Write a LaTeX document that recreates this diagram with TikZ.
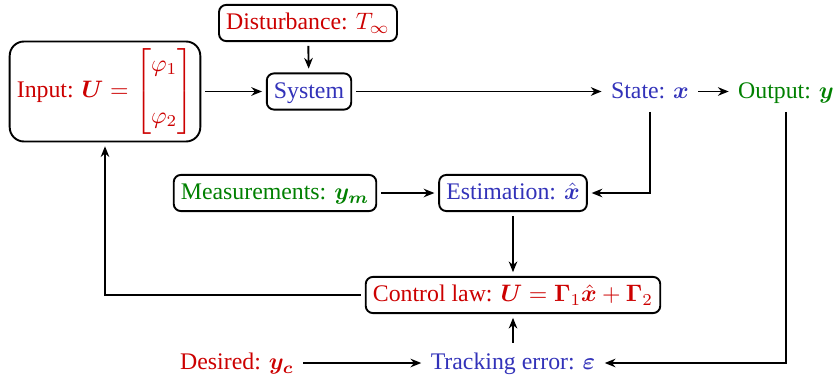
\documentclass[tikz,border=0pt]{standalone}
\usepackage{amsmath,bm}
\usepackage{fontspec}
\setmainfont{Liberation Serif}
\usetikzlibrary{arrows.meta}
\definecolor{cred}{RGB}{204,0,0}
\definecolor{cblue}{RGB}{50,50,185}
\definecolor{cgreen}{RGB}{0,128,0}
\begin{document}
\begin{tikzpicture}[x=0.42pt,y=-0.42pt,
  box/.style={draw,line width=0.8pt,rounded corners=3pt,inner sep=3pt,outer sep=2pt,text height=1.6ex,text depth=.4ex},
  lbl/.style={inner sep=2pt,outer sep=2pt,text height=1.6ex,text depth=.4ex},
  arr/.style={-{Stealth[length=4.5pt,width=3.6pt]},line width=0.8pt},
  ln/.style={line width=0.8pt}]
\useasboundingbox (0,0) rectangle (833,381);
\node[draw,line width=0.8pt,rounded corners=6pt,inner sep=3pt,outer sep=2pt,text=cred] (input) at (105,91.5)
  {Input: $\bm{U} = \begin{bmatrix}\varphi_1\\[10pt]\varphi_2\end{bmatrix}$};
\node[box,text=cred] (dist) at (308,23) {Disturbance: $T_\infty$};
\node[box,text=cblue] (sys) at (309,91.5) {System};
\node[lbl,text=cblue] (state) at (650,91.5) {State: $\bm{x}$};
\node[lbl,text=cgreen] (out) at (786,91.5) {Output: $\bm{y}$};
\node[box,text=cgreen] (meas) at (275,193) {Measurements: $\bm{y_m}$};
\node[box,text=cblue] (est) at (513,193) {Estimation: $\hat{\bm{x}}$};
\node[box,text=cred] (ctrl) at (513,295) {Control law: $\bm{U} = \bm{\Gamma}_1\hat{\bm{x}} + \bm{\Gamma}_2$};
\node[lbl,text=cred] (des) at (237,363) {Desired: $\bm{y_c}$};
\node[lbl,text=cblue] (trk) at (513,363) {Tracking error: $\bm{\varepsilon}$};
\draw[arr] (dist) -- (sys);
\draw[arr] (input) -- (sys);
\draw[arr] (sys) -- (state);
\draw[arr] (state) -- (out);
\draw[arr] (state.south) |- (est.east);
\draw[arr] (meas) -- (est);
\draw[arr] (est) -- (ctrl);
\draw[arr] (ctrl.west) -| (input.south);
\draw[arr] (des) -- (trk);
\draw[arr] (out.south) |- (trk.east);
\draw[arr] (trk.north -| ctrl) -- (ctrl);
\end{tikzpicture}
\end{document}
